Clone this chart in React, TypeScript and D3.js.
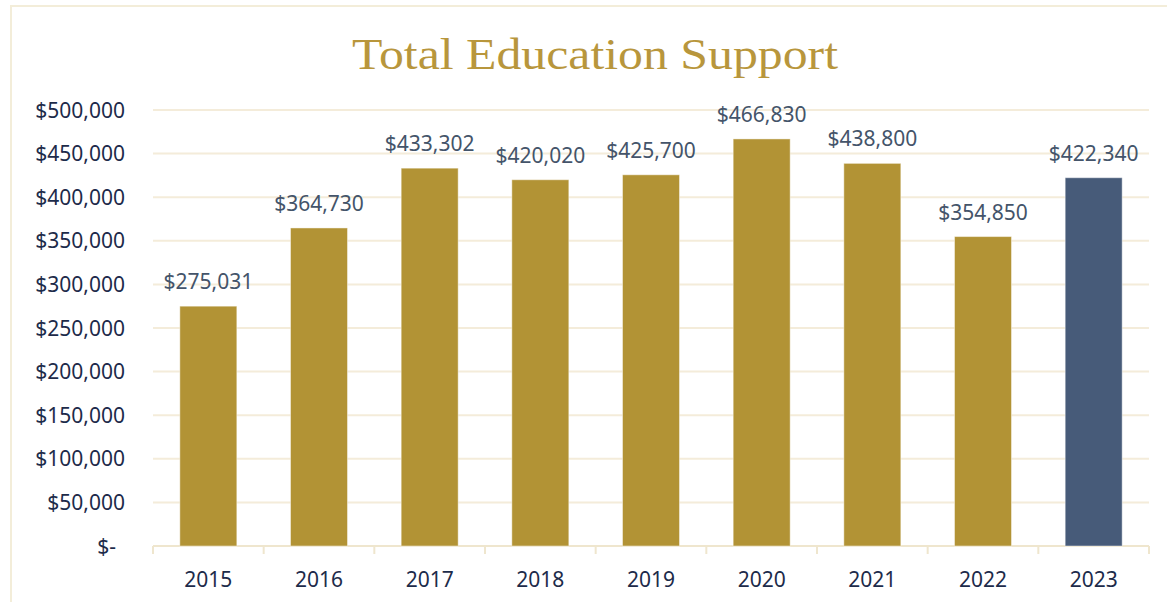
import React from "react";
import * as d3 from "d3";

const categories = ["2015", "2016", "2017", "2018", "2019", "2020", "2021", "2022", "2023"];
const values = [275031, 364730, 433302, 420020, 425700, 466830, 438800, 354850, 422340];
const yTicks = [0, 50000, 100000, 150000, 200000, 250000, 300000, 350000, 400000, 450000, 500000];
const title = "Total Education Support";

const W = 1167;
const H = 602;
const M = { left: 153, right: 1149, top: 110, bottom: 546 };

const fmtMoney = (v: number) => (v === 0 ? "$-" : "$" + d3.format(",")(v));

export default function App() {
  const x = d3.scaleBand<string>().domain(categories).range([M.left, M.right]).paddingInner(0.485).paddingOuter(0.2425);
  const y = d3.scaleLinear().domain([0, 500000]).range([M.bottom, M.top]);
  const step = x.step();
  const font = "'Noto Sans', 'Open Sans', sans-serif";
  const gold = "#B29335";
  const navy = "#475B79";
  return (
    <div style={{ position: "absolute", left: 0, top: 0 }}>
      <svg width={W} height={H} style={{ display: "block", background: "#fff" }}>
        <rect x={11} y={6} width={1170} height={620} fill="#fff" stroke="#F3EDD9" strokeWidth={2} />
        <text
          x={595}
          y={69}
          textAnchor="middle"
          fontFamily="'Liberation Serif', 'DejaVu Serif', serif"
          fontSize={45}
          fill="#B8963C"
          textLength={486}
          lengthAdjust="spacingAndGlyphs"
        >
          {title}
        </text>
        {yTicks.map((t) => (
          <g key={t}>
            {t > 0 && (
              <line x1={M.left} x2={M.right} y1={y(t)} y2={y(t)} stroke="#F4ECDA" strokeWidth={2} />
            )}
            <text
              x={t === 0 ? 116 : 125}
              y={y(t)}
              dy="0.36em"
              textAnchor="end"
              fontFamily={font}
              fontSize={21}
              fill="#1D2B4A"
            >
              {fmtMoney(t)}
            </text>
          </g>
        ))}
        <line x1={M.left} x2={M.right} y1={y(0)} y2={y(0)} stroke="#EFE6CE" strokeWidth={2} />
        {d3.range(categories.length + 1).map((i) => (
          <line
            key={i}
            x1={M.left + i * step}
            x2={M.left + i * step}
            y1={y(0)}
            y2={y(0) + 8}
            stroke="#EFE6CE"
            strokeWidth={2}
          />
        ))}
        {categories.map((c, i) => {
          const bx = x(c) as number;
          const by = y(values[i]);
          const isLast = i === categories.length - 1;
          return (
            <g key={c}>
              <rect
                x={bx}
                y={by}
                width={x.bandwidth()}
                height={y(0) - by}
                fill={isLast ? navy : gold}
                stroke="#ffffff"
                strokeOpacity={0.45}
                strokeWidth={1}
              />
              <text
                x={bx + x.bandwidth() / 2}
                y={by - 17}
                textAnchor="middle"
                fontFamily={font}
                fontSize={21}
                fill="#44546A"
              >
                {fmtMoney(values[i])}
              </text>
              <text
                x={bx + x.bandwidth() / 2}
                y={587}
                textAnchor="middle"
                fontFamily={font}
                fontSize={21}
                fill="#1D2B4A"
              >
                {c}
              </text>
            </g>
          );
        })}
      </svg>
    </div>
  );
}
